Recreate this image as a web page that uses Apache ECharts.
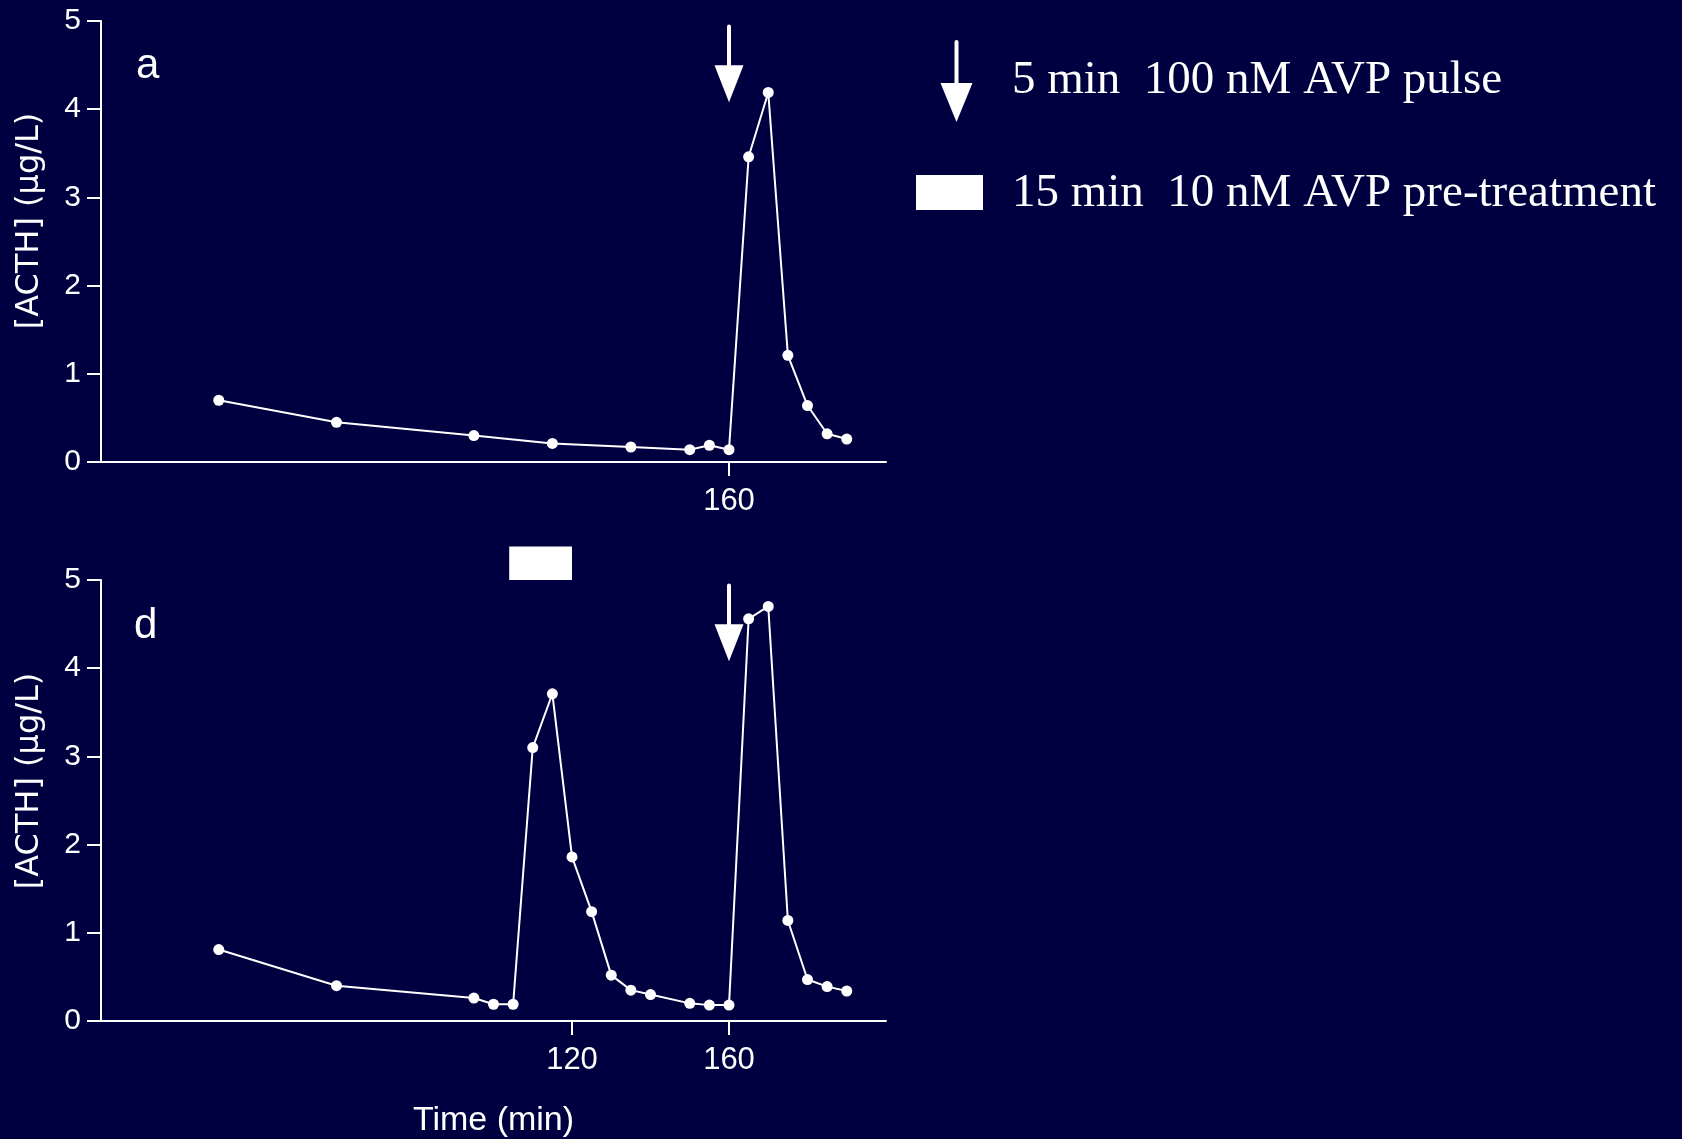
<!DOCTYPE html>
<html>
<head>
<meta charset="utf-8">
<title>ACTH response to AVP pulses</title>
<script src="https://cdn.jsdelivr.net/npm/echarts@6/dist/echarts.min.js"></script>
<style>
html,body{margin:0;padding:0;background:#000040;}
#chart{width:1682px;height:1139px;}
</style>
</head>
<body>
<div id="chart"></div>
<script>
// panel a : 5 min 100 nM AVP pulse only
var timeA = [30, 60, 95, 115, 135, 150, 155, 160, 165, 170, 175, 180, 185, 190];
var acthA = [0.70, 0.45, 0.30, 0.21, 0.17, 0.14, 0.19, 0.14, 3.46, 4.19, 1.21, 0.64, 0.32, 0.26];
// panel d : 10 nM pre-treatment then 100 nM pulse
var timeD = [30, 60, 95, 100, 105, 110, 115, 120, 125, 130, 135, 140, 150, 155, 160, 165, 170, 175, 180, 185, 190];
var acthD = [0.81, 0.40, 0.26, 0.19, 0.19, 3.10, 3.71, 1.86, 1.24, 0.52, 0.35, 0.30, 0.20, 0.18, 0.18, 4.56, 4.70, 1.14, 0.47, 0.39, 0.34];
// tick labels
var xTicksA = [160];
var xTicksD = [120, 160];
var yTicks = [0, 1, 2, 3, 4, 5];
// markers: arrow = [time, top, tip], pre-treatment bar = [start, end, low, high]
var pulseArrow = [160, 4.96, 4.08];
var pretreatBar = [104, 120, 5.0, 5.38];

var WHITE = '#ffffff';
var SANS = "'Liberation Sans', Arial, sans-serif";
var SERIF = "'Liberation Serif', 'Times New Roman', serif";

function pairs(xs, ys){
    var out = [];
    for(var i=0;i<xs.length;i++){ out.push([xs[i], ys[i]]); }
    return out;
}

function renderArrow(params, api){
    var top = api.coord([api.value(0), api.value(1)]);
    var tip = api.coord([api.value(0), api.value(2)]);
    var headLen = 37, headW = 29;
    return {
        type:'group',
        children:[
            {type:'rect', shape:{x:top[0]-2, y:top[1], width:4, height:tip[1]-headLen-top[1]+2, r:2}, style:{fill:WHITE}},
            {type:'polygon', shape:{points:[[top[0]-headW/2, tip[1]-headLen],[top[0]+headW/2, tip[1]-headLen],[tip[0], tip[1]]]}, style:{fill:WHITE}}
        ]
    };
}

function renderBar(params, api){
    var p0 = api.coord([api.value(0), api.value(3)]);
    var p1 = api.coord([api.value(1), api.value(2)]);
    return {type:'rect', shape:{x:p0[0], y:p0[1], width:p1[0]-p0[0], height:p1[1]-p0[1]}, style:{fill:WHITE}};
}

function xAxisCfg(idx, ticks, withName){
    var cfg = {
        type:'value', gridIndex:idx, min:0, max:200,
        axisLine:{lineStyle:{color:WHITE, width:2}},
        axisTick:{show:true, length:14, lineStyle:{color:WHITE, width:2}, customValues:ticks},
        axisLabel:{color:WHITE, fontFamily:SANS, fontSize:31, margin:24, customValues:ticks},
        splitLine:{show:false}
    };
    if(withName){
        cfg.name = 'Time (min)';
        cfg.nameLocation = 'middle';
        cfg.nameGap = 83;
        cfg.nameTextStyle = {color:WHITE, fontFamily:SANS, fontSize:34};
    }
    return cfg;
}

function yAxisCfg(idx){
    return {
        type:'value', gridIndex:idx, min:0, max:5, interval:1,
        axisLine:{show:true, lineStyle:{color:WHITE, width:2}},
        axisTick:{show:true, length:14, lineStyle:{color:WHITE, width:2}},
        axisLabel:{color:WHITE, fontFamily:SANS, fontSize:30, margin:20},
        splitLine:{show:false}
    };
}

function lineSeries(idx, xs, ys){
    return {
        type:'line', xAxisIndex:idx, yAxisIndex:idx,
        data:pairs(xs, ys),
        symbol:'circle', symbolSize:11,
        itemStyle:{color:WHITE},
        lineStyle:{color:WHITE, width:2},
        z:5
    };
}

var chart = echarts.init(document.getElementById('chart'), null, {renderer:'canvas'});
chart.setOption({
    backgroundColor:'#000040',
    animation:false,
    grid:[
        {left:101, right:796, top:21, bottom:677},
        {left:101, right:796, top:580, bottom:118}
    ],
    xAxis:[xAxisCfg(0, xTicksA, false), xAxisCfg(1, xTicksD, true)],
    yAxis:[yAxisCfg(0), yAxisCfg(1)],
    series:[
        lineSeries(0, timeA, acthA),
        lineSeries(1, timeD, acthD),
        {type:'custom', xAxisIndex:0, yAxisIndex:0, renderItem:renderArrow, data:[pulseArrow], encode:{x:0, y:[1,2]}, clip:false, z:3},
        {type:'custom', xAxisIndex:1, yAxisIndex:1, renderItem:renderArrow, data:[pulseArrow], encode:{x:0, y:[1,2]}, clip:false, z:3},
        {type:'custom', xAxisIndex:1, yAxisIndex:1, renderItem:renderBar, data:[pretreatBar], encode:{x:[0,1], y:[2,3]}, clip:false, z:3}
    ],
    graphic:[
        // panel letters
        {type:'text', left:136, top:45, style:{text:'a', fill:WHITE, font:'42px ' + SANS}},
        {type:'text', left:134, top:605, style:{text:'d', fill:WHITE, font:'42px ' + SANS}},
        // y axis titles
        {type:'text', x:30, y:221, rotation:Math.PI/2, style:{text:'[ACTH] (μg/L)', fill:WHITE, font:"32px 'DejaVu Sans', sans-serif", align:'center', verticalAlign:'middle'}},
        {type:'text', x:30, y:781, rotation:Math.PI/2, style:{text:'[ACTH] (μg/L)', fill:WHITE, font:"32px 'DejaVu Sans', sans-serif", align:'center', verticalAlign:'middle'}},
        // key
        {type:'rect', shape:{x:954.5, y:40, width:4, height:45, r:2}, style:{fill:WHITE}},
        {type:'polygon', shape:{points:[[940.5,83],[972.5,83],[956.5,122]]}, style:{fill:WHITE}},
        {type:'text', x:1012, y:81, style:{text:'5 min  100 nM AVP pulse', fill:WHITE, font:'47px ' + SERIF, verticalAlign:'middle'}},
        {type:'rect', shape:{x:916, y:175, width:67, height:35}, style:{fill:WHITE}},
        {type:'text', x:1012, y:194, style:{text:'15 min  10 nM AVP pre-treatment', fill:WHITE, font:'47px ' + SERIF, verticalAlign:'middle'}}
    ]
});
</script>
</body>
</html>
